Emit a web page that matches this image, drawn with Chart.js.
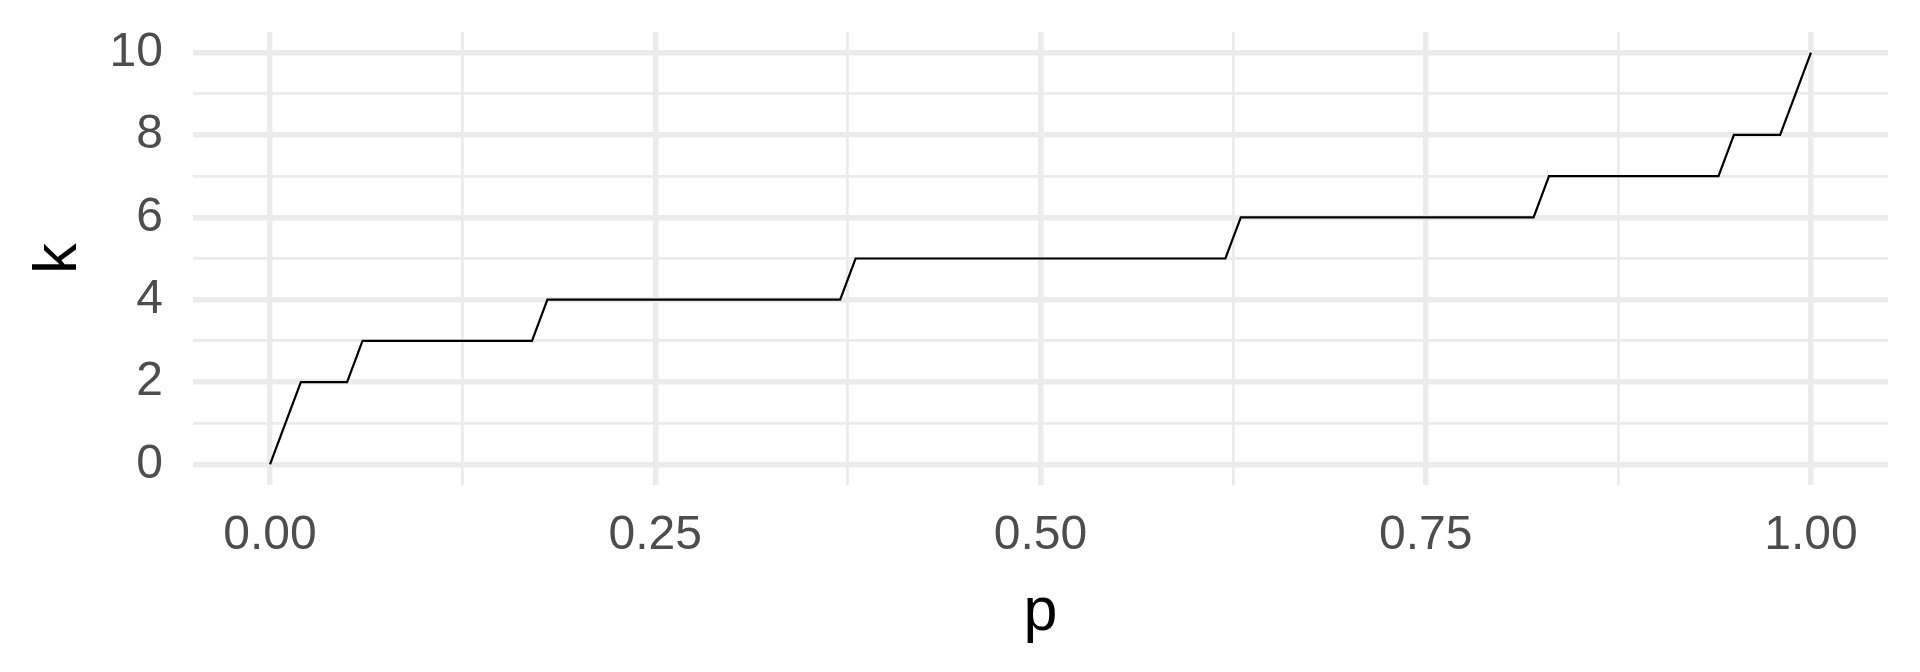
<!DOCTYPE html>
<html>
<head>
<meta charset="utf-8">
<script src="https://cdn.jsdelivr.net/npm/chart.js@4.4.1/dist/chart.umd.min.js"></script>
<style>
  body { margin: 0; background: #fff; }
  #wrap { width: 1920px; height: 672px; }
</style>
</head>
<body>
<div id="wrap"><canvas id="chart" width="1920" height="672"></canvas></div>
<script>
// quantile steps, corners only
var pVals = [0, 0.01, 0.02, 0.05, 0.06, 0.17, 0.18, 0.37, 0.38, 0.62, 0.63, 0.82, 0.83, 0.94, 0.95, 0.98, 0.99, 1.0];
var kVals = [0, 1, 2, 2, 3, 3, 4, 4, 5, 5, 6, 6, 7, 7, 8, 8, 9, 10];

var xTicks = [0, 0.125, 0.25, 0.375, 0.5, 0.625, 0.75, 0.875, 1];
var xLabels = ["0.00", "", "0.25", "", "0.50", "", "0.75", "", "1.00"];
var yTicks = [0, 1, 2, 3, 4, 5, 6, 7, 8, 9, 10];
var yLabels = ["0", "", "2", "", "4", "", "6", "", "8", "", "10"];

var FONT = '"Liberation Sans", Arial, Helvetica, sans-serif';
var gridCol = "#EBEBEB";

var points = pVals.map(function(p, i) { return {x: p, y: kVals[i]}; });

new Chart(document.getElementById("chart"), {
  type: 'line',
  data: {
    datasets: [{
      data: points,
      borderColor: "#000000",
      borderWidth: 2.2,
      pointRadius: 0,
      fill: false,
      tension: 0
    }]
  },
  options: {
    responsive: false,
    animation: false,
    layout: { padding: { top: 32, right: 32, left: 0, bottom: 0 } },
    plugins: { legend: { display: false }, tooltip: { enabled: false } },
    scales: {
      x: {
        type: 'linear',
        min: -0.05,
        max: 1.05,
        afterBuildTicks: function(scale) {
          scale.ticks = xTicks.map(function(v) { return {value: v}; });
        },
        afterFit: function(scale) {
          scale.height = 187;
          scale.paddingLeft = 0;
          scale.paddingRight = 0;
        },
        border: { display: false },
        grid: {
          color: gridCol,
          drawTicks: false,
          lineWidth: function(ctx) {
            var i = xTicks.indexOf(ctx.tick ? ctx.tick.value : -1);
            return xLabels[i] ? 5.5 : 2.8;
          }
        },
        ticks: {
          autoSkip: false,
          maxRotation: 0,
          padding: 22,
          color: "#4D4D4D",
          font: { family: FONT, size: 48 },
          callback: function(v) {
            var i = xTicks.indexOf(v);
            return i >= 0 ? xLabels[i] : "";
          }
        },
        title: {
          display: true,
          text: "p",
          color: "#000000",
          font: { family: FONT, size: 61, lineHeight: 1 },
          padding: { top: 0, bottom: 28 }
        }
      },
      y: {
        type: 'linear',
        min: -0.5,
        max: 10.5,
        afterBuildTicks: function(scale) {
          scale.ticks = yTicks.map(function(v) { return {value: v}; });
        },
        afterFit: function(scale) {
          scale.width = 193;
          scale.paddingTop = 0;
          scale.paddingBottom = 0;
        },
        border: { display: false },
        grid: {
          color: gridCol,
          drawTicks: false,
          lineWidth: function(ctx) {
            var i = yTicks.indexOf(ctx.tick ? ctx.tick.value : -1);
            return yLabels[i] ? 5.5 : 2.8;
          }
        },
        ticks: {
          autoSkip: false,
          padding: 30,
          color: "#4D4D4D",
          font: { family: FONT, size: 48 },
          callback: function(v) {
            var i = yTicks.indexOf(v);
            return i >= 0 ? yLabels[i] : "";
          }
        },
        title: {
          display: true,
          text: "k",
          color: "#000000",
          font: { family: FONT, size: 61, lineHeight: 1 },
          padding: { top: 29, bottom: 0 }
        }
      }
    }
  }
});
</script>
</body>
</html>
